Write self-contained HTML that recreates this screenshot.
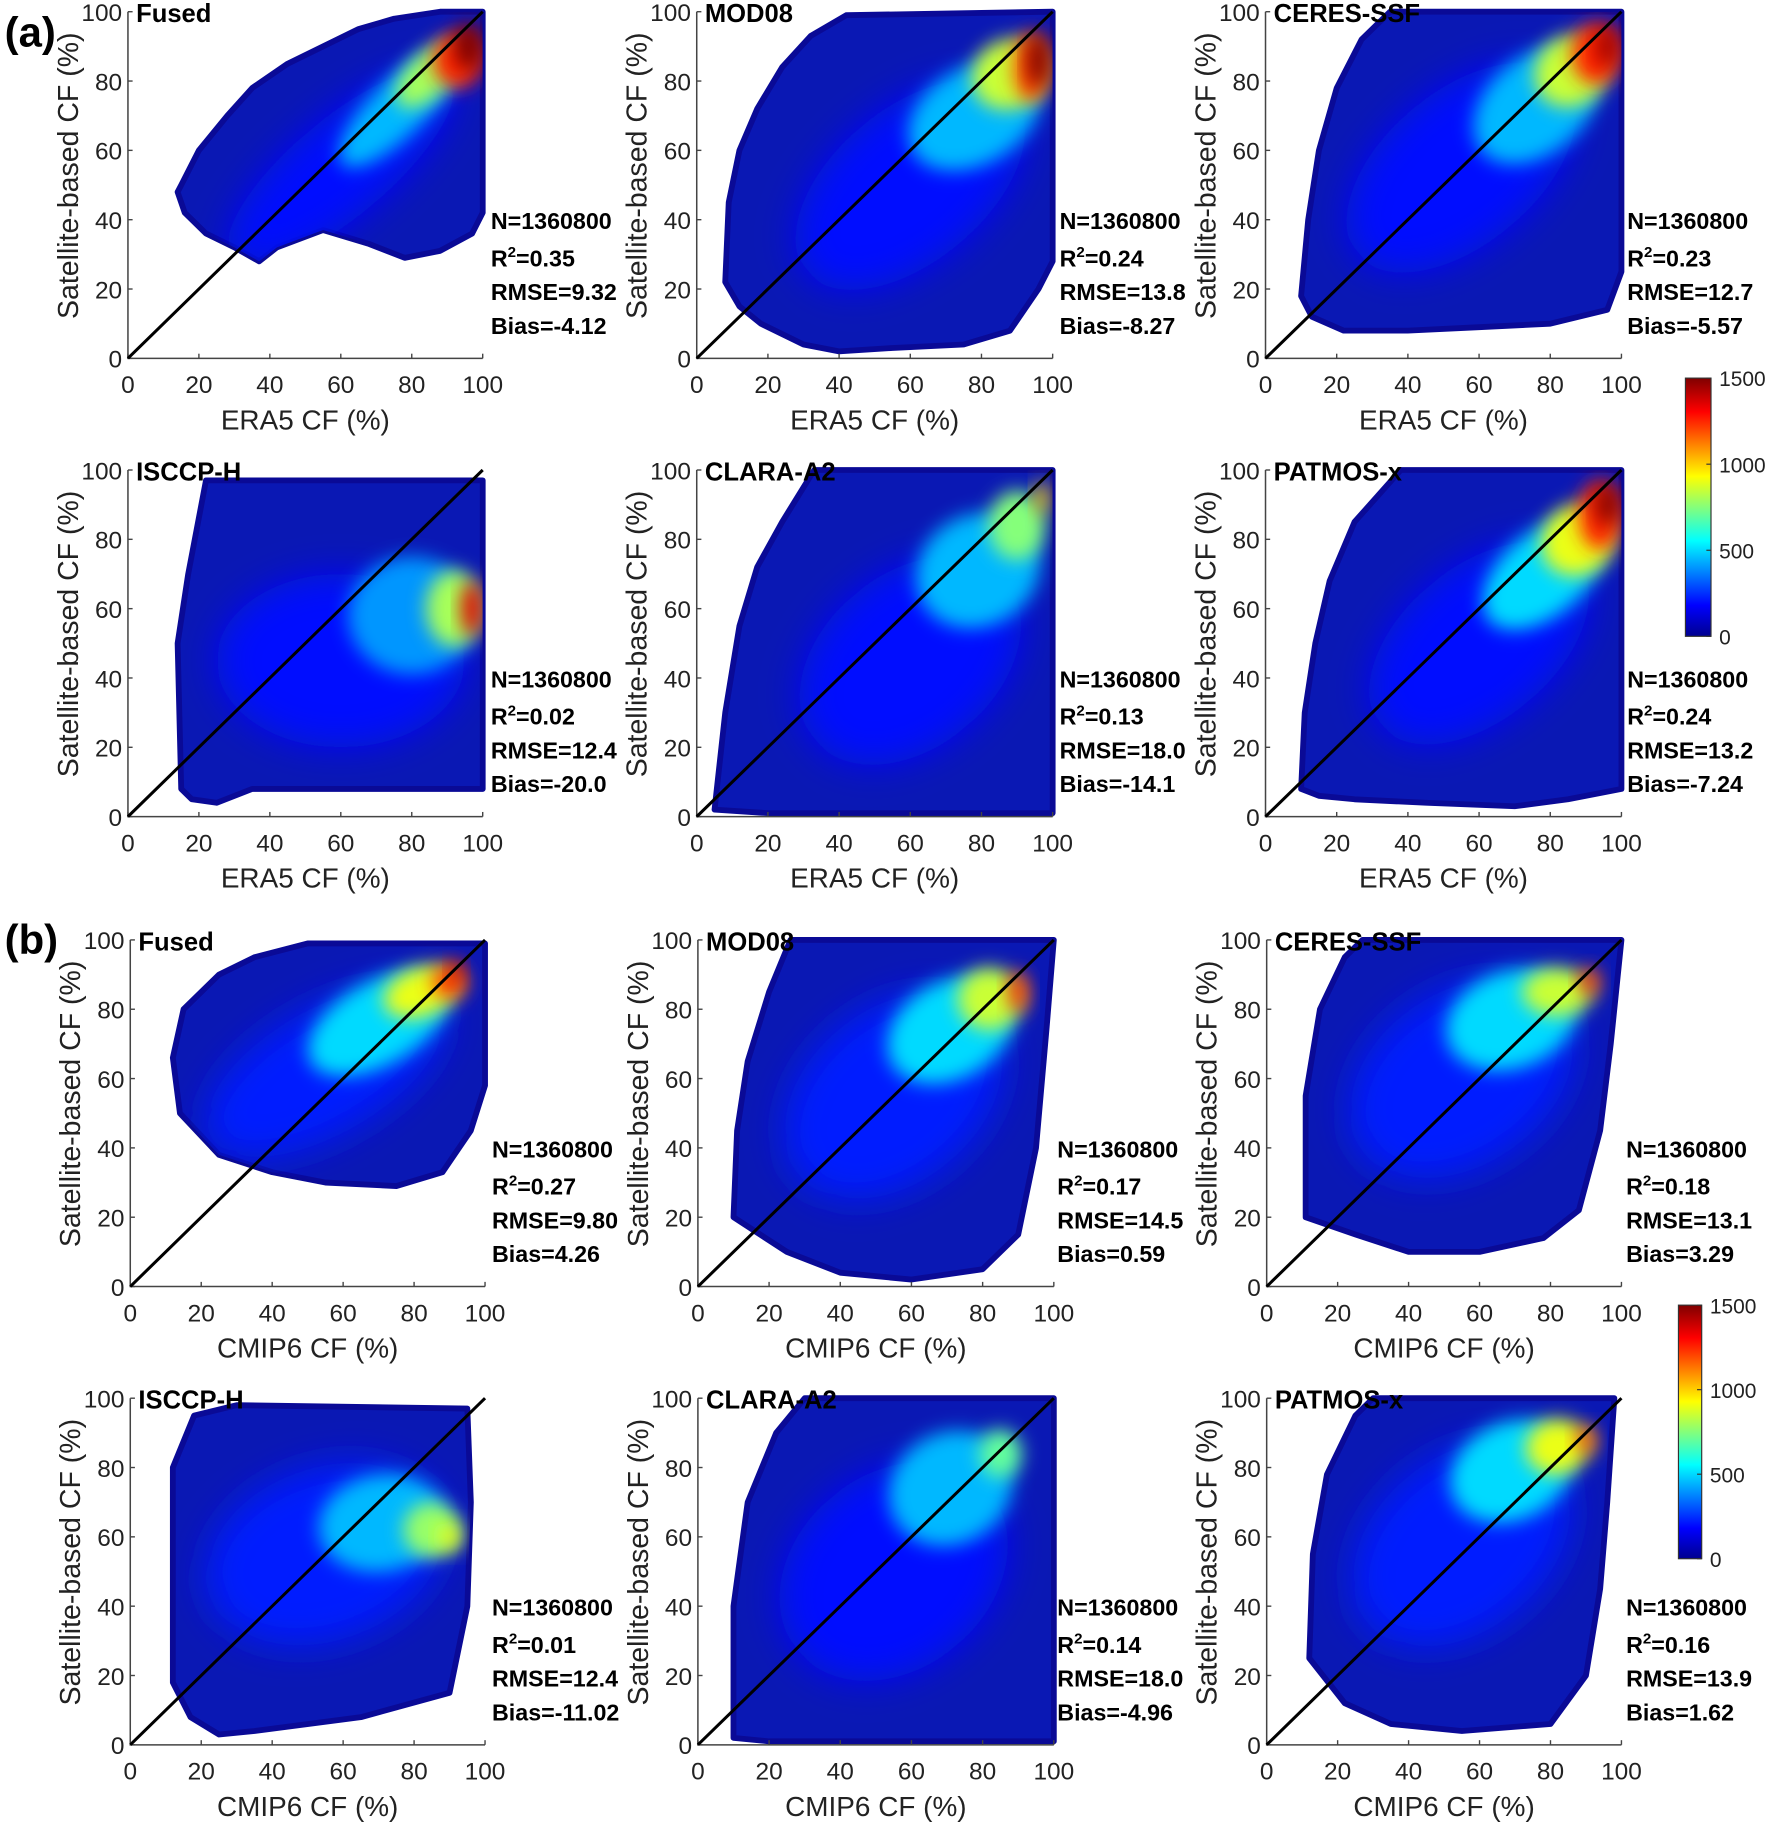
<!DOCTYPE html>
<html><head><meta charset="utf-8">
<style>
html,body{margin:0;padding:0;background:#fff;}
svg{display:block;}
text{font-family:"Liberation Sans",Arial,sans-serif;}
</style></head>
<body>
<svg id="fig" width="1768" height="1824" viewBox="0 0 1520 1568" xmlns="http://www.w3.org/2000/svg">
<defs>
<linearGradient id="jet" x1="0" y1="1" x2="0" y2="0">
<stop offset="0" stop-color="#00008f"/><stop offset="0.12" stop-color="#0000ff"/>
<stop offset="0.37" stop-color="#00ffff"/><stop offset="0.62" stop-color="#ffff00"/>
<stop offset="0.87" stop-color="#ff0000"/><stop offset="1" stop-color="#800000"/>
</linearGradient>
<filter id="blur" x="-50%" y="-50%" width="200%" height="200%"><feGaussianBlur stdDeviation="16"/></filter>
<filter id="blurS" x="-50%" y="-50%" width="200%" height="200%"><feGaussianBlur stdDeviation="8"/></filter>
</defs>
<text x="4" y="40" font-family="Liberation Serif,serif" font-weight="bold" font-size="36">(a)</text>
<text x="4" y="820" font-family="Liberation Serif,serif" font-weight="bold" font-size="36">(b)</text>
</svg>
<script>
// ---- data ----
const panelNames = ["Fused","MOD08","CERES-SSF","ISCCP-H","CLARA-A2","PATMOS-x","Fused","MOD08","CERES-SSF","ISCCP-H","CLARA-A2","PATMOS-x"];
const xAxisTitles = ["ERA5 CF (%)","ERA5 CF (%)","ERA5 CF (%)","ERA5 CF (%)","ERA5 CF (%)","ERA5 CF (%)","CMIP6 CF (%)","CMIP6 CF (%)","CMIP6 CF (%)","CMIP6 CF (%)","CMIP6 CF (%)","CMIP6 CF (%)"];
const statsN = ["1360800","1360800","1360800","1360800","1360800","1360800","1360800","1360800","1360800","1360800","1360800","1360800"];
const statsR2 = ["0.35","0.24","0.23","0.02","0.13","0.24","0.27","0.17","0.18","0.01","0.14","0.16"];
const statsRMSE = ["9.32","13.8","12.7","12.4","18.0","13.2","9.80","14.5","13.1","12.4","18.0","13.9"];
const statsBias = ["-4.12","-8.27","-5.57","-20.0","-14.1","-7.24","4.26","0.59","3.29","-11.02","-4.96","1.62"];
const tickValues = [0,20,40,60,80,100];
const colorbarTicks = [0,500,1000,1500];
const colorbarMax = 1500;
// cloud envelopes [x%, y%]
const hullFusedA = [[15,50],[20,60],[28,70],[35,78],[45,85],[55,90],[65,95],[75,98],[88,100],[100,100],[100,42],[97,36],[88,31],[78,29],[68,33],[55,37],[42,32],[37,28],[30,32],[22,36],[16,42],[14,48]];
const hullMod08A = [[8,22],[9,45],[12,60],[17,72],[24,84],[32,93],[42,99],[100,100],[100,28],[96,20],[88,8],[75,4],[55,3],[40,2],[30,4],[18,10],[12,15]];
const hullCeresA = [[10,18],[12,40],[15,60],[20,78],[27,92],[35,100],[100,100],[100,25],[96,14],[80,10],[60,9],[40,8],[22,8],[13,12]];
const hullIsccpA = [[15,8],[14,50],[17,70],[22,97],[100,97],[100,8],[60,8],[35,8],[25,4],[18,5]];
const hullClaraA = [[5,2],[8,30],[12,55],[17,72],[24,85],[33,100],[100,100],[100,1],[60,1],[20,1]];
const hullPatmosA = [[10,8],[11,30],[14,50],[18,68],[25,85],[38,100],[100,100],[100,8],[85,5],[70,3],[45,4],[25,5],[15,6]];
const hullFusedB = [[12,66],[15,80],[25,90],[35,95],[50,99],[100,99],[100,58],[96,45],[88,33],[75,29],[55,30],[40,33],[25,38],[14,50]];
const hullMod08B = [[10,20],[11,45],[14,65],[20,85],[26,100],[100,100],[98,75],[95,40],[90,15],[80,5],[60,2],[40,4],[25,10]];
const hullCeresB = [[11,20],[11,55],[15,80],[22,95],[27,100],[100,100],[97,70],[94,45],[88,22],[78,14],[60,10],[40,10],[25,15]];
const hullIsccpB = [[12,18],[12,80],[18,95],[30,98],[95,97],[96,70],[95,40],[90,15],[65,8],[35,4],[25,3],[17,8]];
const hullClaraB = [[10,2],[10,40],[14,70],[22,90],[30,100],[100,100],[100,1],[60,1],[20,1]];
const hullPatmosB = [[12,25],[13,55],[17,78],[25,95],[30,100],[98,100],[96,70],[94,45],[90,20],[80,6],[55,4],[35,6],[22,12]];
const hulls = [hullFusedA,hullMod08A,hullCeresA,hullIsccpA,hullClaraA,hullPatmosA,hullFusedB,hullMod08B,hullCeresB,hullIsccpB,hullClaraB,hullPatmosB];
// density hotspots: [cx%, cy%, rx%, ry%, rotation deg, count]
const spotsFusedA = [[60,55,40,14,-40,200],[76,72,22,8,-45,450],[85,82,12,6,-45,800],[93,86,7,8,0,1250],[96,90,4,7,0,1500]];
const spotsMod08A = [[60,50,38,22,-40,200],[78,70,20,14,-30,450],[88,82,11,10,-30,850],[94,84,5,10,0,1200],[96,86,3,8,0,1500]];
const spotsCeresA = [[55,55,38,22,-40,200],[76,73,20,14,-40,450],[86,83,11,10,-40,850],[93,88,7,9,0,1250],[96,90,3,6,0,1450]];
const spotsIsccpA = [[60,45,35,25,0,200],[80,58,18,17,0,400],[92,60,8,11,0,800],[97,60,3,8,0,1350]];
const spotsClaraA = [[60,45,35,25,-40,200],[79,71,18,16,-30,450],[90,84,8,10,0,750],[97,92,2,5,0,1000]];
const spotsPatmosA = [[60,50,36,22,-40,200],[78,70,20,12,-40,500],[88,80,11,10,-40,900],[94,87,6,10,0,1250],[96,90,3,6,0,1500]];
const spotsFusedB = [[55,62,38,18,-30,220],[70,76,22,12,-30,500],[82,85,11,7,-20,900],[90,88,5,5,0,1200],[92,91,2,3,0,1400]];
const spotsMod08B = [[55,55,35,25,-40,220],[71,74,19,14,-30,500],[82,83,9,9,0,850],[90,85,3,6,0,1200]];
const spotsCeresB = [[55,60,35,25,-35,220],[69,77,19,14,-20,500],[82,85,10,7,0,850],[91,88,3,4,0,1200]];
const spotsIsccpB = [[55,55,35,25,-20,220],[71,64,18,14,-10,450],[85,62,8,8,0,780],[90,60,3,4,0,900]];
const spotsClaraB = [[55,50,35,28,-40,200],[71,74,18,16,-30,450],[85,84,6,7,0,700]];
const spotsPatmosB = [[55,58,35,25,-40,220],[69,79,18,14,-25,500],[82,86,9,8,-10,900],[90,88,3,4,0,1150]];
const spots = [spotsFusedA,spotsMod08A,spotsCeresA,spotsIsccpA,spotsClaraA,spotsPatmosA,spotsFusedB,spotsMod08B,spotsCeresB,spotsIsccpB,spotsClaraB,spotsPatmosB];

// ---- layout ----
const NS = "http://www.w3.org/2000/svg";
const svg = document.getElementById("fig");
const colX = [[110,415],[599,905],[1088,1394],[110,415],[599,905],[1088,1394],[112,417],[600,906],[1089,1394],[112,417],[600,906],[1089,1394]];
const rowY = [[10,308],[10,308],[10,308],[404,702],[404,702],[404,702],[808,1106],[808,1106],[808,1106],[1202,1500],[1202,1500],[1202,1500]];
const statsXOff = [7,6,5,7,6,5,6,3,4,6,3,4];
function mk(tag, attrs, parent){const e=document.createElementNS(NS,tag);for(const k in attrs)e.setAttribute(k,attrs[k]);(parent||svg).appendChild(e);return e;}
function jet(v){
  const stops=[[0,[0,0,143]],[0.12,[0,0,255]],[0.37,[0,255,255]],[0.62,[255,255,0]],[0.87,[255,0,0]],[1,[128,0,0]]];
  for(let i=1;i<stops.length;i++){ if(v<=stops[i][0]){const a=stops[i-1],b=stops[i];const t=(v-a[0])/(b[0]-a[0]);
    return "rgb("+a[1].map((c,j)=>Math.round(c+(b[1][j]-c)*t)).join(",")+")";}}
  return "rgb(128,0,0)";
}
for(let p=0;p<12;p++){
  const [x0,x1]=colX[p],[y0,y1]=rowY[p];
  const sx=v=>x0+(x1-x0)*v/100, sy=v=>y1-(y1-y0)*v/100;
  const g=mk("g",{});
  
  
  const cid="clip"+p;
  const cp=mk("clipPath",{id:cid},g);
  const ptsStr=hulls[p].map(q=>sx(q[0]).toFixed(1)+","+sy(q[1]).toFixed(1)).join(" ");
  mk("polygon",{points:ptsStr},cp);
  const hull=mk("polygon",{points:ptsStr,fill:"#0a18b4",stroke:"#0a0a96","stroke-width":5,"stroke-linejoin":"round"},g);
  
  
  const inner=mk("g",{"clip-path":"url(#"+cid+")"},g);
  spots[p].forEach((s,i)=>{
    const cx=sx(s[0]),cy=sy(s[1]),rx=(x1-x0)*s[2]/100,ry=(y1-y0)*s[3]/100;
    const e=mk("ellipse",{cx:cx,cy:cy,rx:rx,ry:ry,fill:jet(s[5]/colorbarMax),filter:i===0?"url(#blur)":"url(#blurS)",transform:"rotate("+s[4]+" "+cx+" "+cy+")"},inner);
    
    
  });
  const ax=mk("path",{d:`M${x0},${y0}V${y1}H${x1}`,fill:"none",stroke:"#444","stroke-width":1.3},g);
  
  
  tickValues.forEach(t=>{
    mk("line",{x1:sx(t),x2:sx(t),y1:y1,y2:y1-4,stroke:"#444","stroke-width":1.2},g);
    mk("line",{x1:x0,x2:x0+4,y1:sy(t),y2:sy(t),stroke:"#444","stroke-width":1.2},g);
    const xt=mk("text",{x:sx(t),y:y1+30,"text-anchor":"middle","font-size":21,fill:"#222"},g);xt.textContent=t;
    
    
    const yt=mk("text",{x:x0-5,y:sy(t)+8,"text-anchor":"end","font-size":21,fill:"#222"},g);yt.textContent=t;
    
    
  });
  const dg=mk("line",{x1:sx(0),y1:sy(0),x2:sx(100),y2:sy(100),stroke:"#000","stroke-width":2.6},g);
  
  
  const ti=mk("text",{x:x0+7,y:y0+9,"font-size":22,"font-weight":"bold",fill:"#000"},g);ti.textContent=panelNames[p];
  
  
  const xl=mk("text",{x:(x0+x1)/2,y:y1+61,"text-anchor":"middle","font-size":24,fill:"#222"},g);xl.textContent=xAxisTitles[p];
  
  
  const ycx=x0-43,ycy=(y0+y1)/2-8;
  const yl=mk("text",{x:ycx,y:ycy,"text-anchor":"middle","font-size":24.5,fill:"#222",transform:`rotate(-90 ${ycx} ${ycy})`},g);yl.textContent="Satellite-based CF (%)";
  
  
  const stx=x1+statsXOff[p], sty=y0+187;
  const st=mk("text",{x:stx,y:sty,"font-size":20,"font-weight":"bold",fill:"#000"},g);
  
  
  const l1=mk("tspan",{x:stx,y:sty},st);l1.textContent="N="+statsN[p];
  const l2=mk("tspan",{x:stx,y:sty+32},st);l2.textContent="R";
  const sup=mk("tspan",{dy:-8,"font-size":13},st);sup.textContent="2";
  const l2b=mk("tspan",{dy:8},st);l2b.textContent="="+statsR2[p];
  const l3=mk("tspan",{x:stx,y:sty+61},st);l3.textContent="RMSE="+statsRMSE[p];
  const l4=mk("tspan",{x:stx,y:sty+90},st);l4.textContent="Bias="+statsBias[p];
}
const cbs=[[1449,1471,325,547],[1443,1463,1122,1340]];
cbs.forEach((c,i)=>{
  const g=mk("g",{});
  
  
  mk("rect",{x:c[0],y:c[2],width:c[1]-c[0],height:c[3]-c[2],fill:"url(#jet)",stroke:"#333","stroke-width":1},g);
  colorbarTicks.forEach(t=>{
    const y=c[3]-(c[3]-c[2])*t/colorbarMax;
    mk("line",{x1:c[1]-4,x2:c[1],y1:y,y2:y,stroke:"#333"},g);
    const tx=mk("text",{x:c[1]+7,y:y+7,"font-size":18,fill:"#222"},g);tx.textContent=t;
    
    
  });
});
</script>
</body></html>
